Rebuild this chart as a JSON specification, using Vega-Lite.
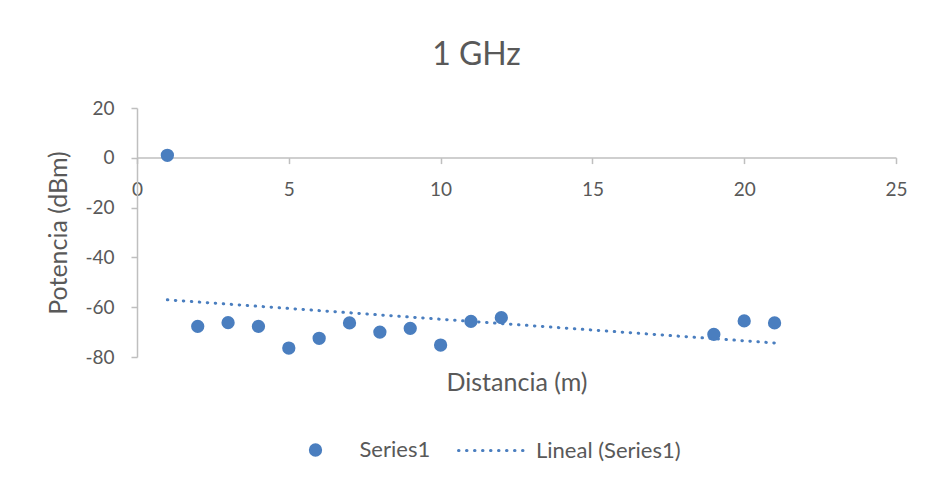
{
  "$schema": "https://vega.github.io/schema/vega-lite/v6.json",
  "width": 759,
  "height": 249,
  "autosize": {"type": "none"},
  "padding": {"left": 137, "top": 108, "right": 32, "bottom": 128},
  "background": "white",
  "config": {
    "view": {"stroke": null},
    "font": "Lato",
    "axis": {"grid": false, "domainColor": "#BFBFBF", "tickColor": "#BFBFBF", "domainWidth": 1.5, "tickWidth": 1.5, "tickSize": 6, "labelColor": "#595959", "titleColor": "#595959", "labelFont": "Lato", "titleFont": "Lato", "labelFontSize": 19, "titleFontSize": 25, "titleFontWeight": "normal"},
    "legend": {"labelColor": "#595959", "labelFont": "Lato", "labelFontSize": 22}
  },
  "title": {"text": "1 GHz", "fontSize": 32, "font": "Lato", "fontWeight": "normal", "color": "#595959", "anchor": "middle", "frame": "bounds", "offset": 27},
  "data": {
    "values": [
      {"distancia": 1, "potencia": 1},
      {"distancia": 2, "potencia": -67.7},
      {"distancia": 3, "potencia": -66.2},
      {"distancia": 4, "potencia": -67.7},
      {"distancia": 5, "potencia": -76.4},
      {"distancia": 6, "potencia": -72.5},
      {"distancia": 7, "potencia": -66.3},
      {"distancia": 8, "potencia": -70},
      {"distancia": 9, "potencia": -68.5},
      {"distancia": 10, "potencia": -75.2},
      {"distancia": 11, "potencia": -65.7},
      {"distancia": 12, "potencia": -64.2},
      {"distancia": 19, "potencia": -70.9},
      {"distancia": 20, "potencia": -65.5},
      {"distancia": 21, "potencia": -66.3}
    ]
  },
  "encoding": {
    "x": {"field": "distancia", "type": "quantitative", "scale": {"domain": [0, 25], "nice": false},
      "axis": {"values": [0, 5, 10, 15, 20, 25], "offset": -199.4, "labelPadding": 17, "labelFlush": false, "title": "Distancia (m)", "titleY": 232.7, "titleBaseline": "alphabetic"}},
    "y": {"field": "potencia", "type": "quantitative", "scale": {"domain": [-80, 20], "nice": false},
      "axis": {"values": [-80, -60, -40, -20, 0, 20], "labelExpr": "toString(datum.value)", "labelPadding": 17, "labelFlush": false, "title": "Potencia (dBm)", "titleX": -66}}
  },
  "layer": [
    {
      "mark": {"type": "point", "filled": true, "opacity": 1, "size": 177, "shape": "circle"},
      "encoding": {
        "color": {"datum": "Series1", "scale": {"range": ["#4A7EBF"]},
          "legend": {"title": null, "orient": "none", "legendX": 167.5, "legendY": 331, "direction": "horizontal", "symbolType": "circle", "symbolSize": 177, "symbolOpacity": 1, "labelOffset": 33}}
      }
    },
    {
      "transform": [{"regression": "potencia", "on": "distancia"}],
      "mark": {"type": "line", "color": "#4A7EBF", "strokeWidth": 3, "strokeCap": "round"},
      "encoding": {
        "strokeDash": {"datum": "Lineal (Series1)", "scale": {"range": [[0.5, 7.5]]},
          "legend": {"title": null, "orient": "none", "legendX": 320, "legendY": 306, "direction": "horizontal", "symbolType": "stroke", "symbolSize": 4900, "symbolStrokeColor": "#4A7EBF", "symbolStrokeWidth": 3, "labelOffset": 6,
            "encode": {"symbols": {"update": {"strokeCap": {"value": "round"}}}}}}
      }
    }
  ]
}
